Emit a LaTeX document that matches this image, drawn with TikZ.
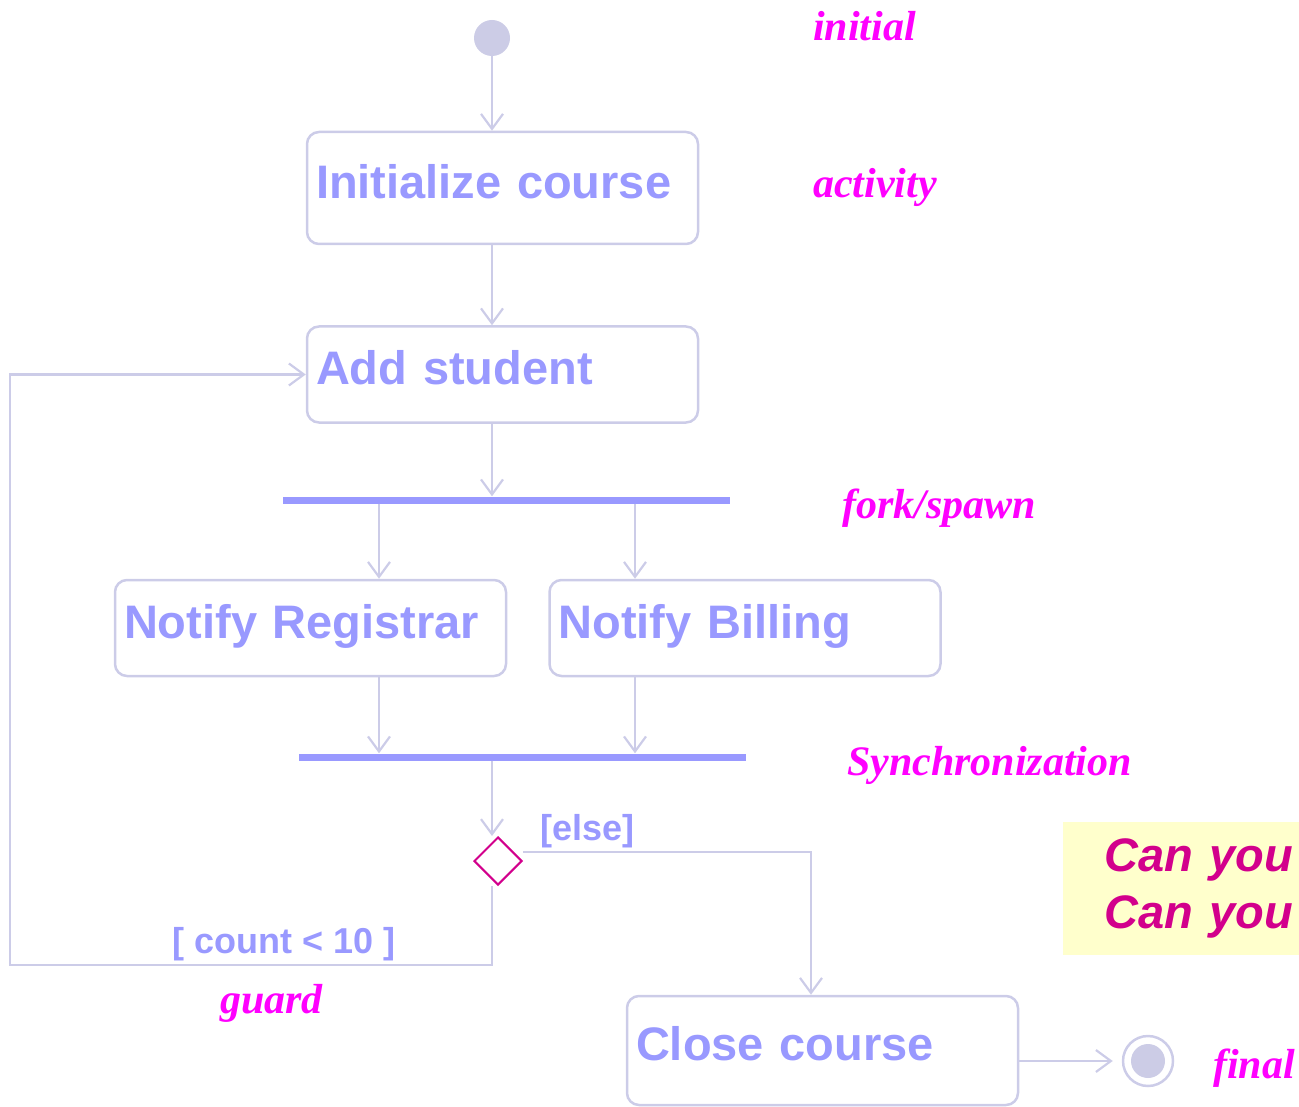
\documentclass[tikz,border=0pt]{standalone}
\usepackage{fontspec}
\setmainfont{Liberation Serif}
\setsansfont{Liberation Sans}
\usepackage{xcolor}
\usepackage{tikz}
\usetikzlibrary{shapes,arrows.meta,positioning}

\definecolor{linec}{RGB}{204,204,232}
\definecolor{textc}{RGB}{153,153,255}
\definecolor{dotc}{RGB}{204,204,230}
\definecolor{tagc}{RGB}{255,0,255}
\definecolor{cherry}{RGB}{210,0,140}
\definecolor{notec}{RGB}{255,255,204}

\begin{document}
\begin{tikzpicture}[x=1pt, y=-1pt,
    act/.style={rectangle, draw=linec, line width=2.5pt, rounded corners=12pt, text=textc, font=\sffamily\bfseries\fontsize{47}{56}\selectfont, text width=373pt, inner xsep=9pt, align=left, text depth=14pt, minimum height=96pt},
    bar/.style={rectangle, fill=textc, inner sep=0pt, minimum width=447pt, minimum height=7pt},
    startdot/.style={circle, fill=dotc, minimum size=36pt, inner sep=0pt},
    enddot/.style={circle, draw=linec, line width=2.5pt, minimum size=50pt, inner sep=0pt, path picture={\fill[dotc] (path picture bounding box.center) circle (17pt);}},
    flow/.style={draw=linec, line width=2.2pt, -{Straight Barb[length=15pt,width=22pt]}},
    tag/.style={text=tagc, font=\rmfamily\bfseries\itshape\fontsize{42}{48}\selectfont, anchor=base west, inner sep=0pt},
    guardtxt/.style={text=textc, font=\sffamily\bfseries\fontsize{36}{42}\selectfont, anchor=base west, inner sep=0pt},
    note/.style={rectangle, fill=notec, text=cherry, font=\sffamily\bfseries\itshape\fontsize{47}{57}\selectfont, text width=224pt, inner xsep=6pt, align=right, minimum height=133pt}]

    \useasboundingbox (0,0) rectangle (1299,1107);

    \node[startdot] (start) at (492,38) {};
    \node[act, minimum height=112pt] (initcourse) at (502.5,188) {Initialize course};
    \node[act, below=80pt of initcourse] (addstud) {Add student};
    \node[bar] (fork) at (506.5,500) {};
    \node[act] (reg) at (310.5,628) {Notify Registrar};
    \node[act, right=41pt of reg] (bill) {Notify Billing};
    \node[bar] (sync) at (522.5,757) {};
    \node[diamond, draw=cherry, line width=2pt, minimum width=48pt, minimum height=48pt, inner sep=0pt] (choice) at (498,861) {};
    \node[act, minimum height=109pt] (closec) at (822.5,1050.5) {Close course};
    \node[enddot] (stop) at (1148,1061) {};

    \coordinate (lane1) at (379,0);
    \coordinate (lane2) at (635,0);
    \coordinate (lane3) at (811,0);
    \coordinate (loop) at (10,965);

    \draw[flow] (start) -- (start |- initcourse.north);
    \draw[flow] (initcourse.south -| start) -- (addstud.north -| start);
    \draw[flow] (addstud.south -| start) -- (fork.north -| start);
    \draw[flow] (fork.south -| lane1) -- (reg.north -| lane1);
    \draw[flow] (fork.south -| lane2) -- (bill.north -| lane2);
    \draw[flow] (reg.south -| lane1) -- (sync.north -| lane1);
    \draw[flow] (bill.south -| lane2) -- (sync.north -| lane2);
    \draw[flow] (sync.south -| start) -- (choice.north -| start);
    \draw[flow] ([yshift=9pt]choice.east) -| (closec.north -| lane3);
    \draw[flow] (choice.south -| start) |- (loop) |- (addstud.west);
    \draw[flow, shorten >=9pt] (closec.east |- stop) -- (stop);

    \node[guardtxt] (els) at (540,840) {[else]};
    \node[guardtxt] (cnt) at (172,953) {[ count < 10 ]};

    \node[tag] (lblinit) at (813,41) {initial};
    \node[tag] (lblact) at (813,198) {activity};
    \node[tag] (lblfork) at (842,518) {fork/spawn};
    \node[tag] (lblsync) at (847,775) {Synchronization};
    \node[tag] (lblguard) at (220,1013) {guard};
    \node[tag] (lblfinal) at (1213,1078) {final};

    \node[note, anchor=north east] (ask) at (1299,822) {Can you\\Can you};
\end{tikzpicture}
\end{document}
